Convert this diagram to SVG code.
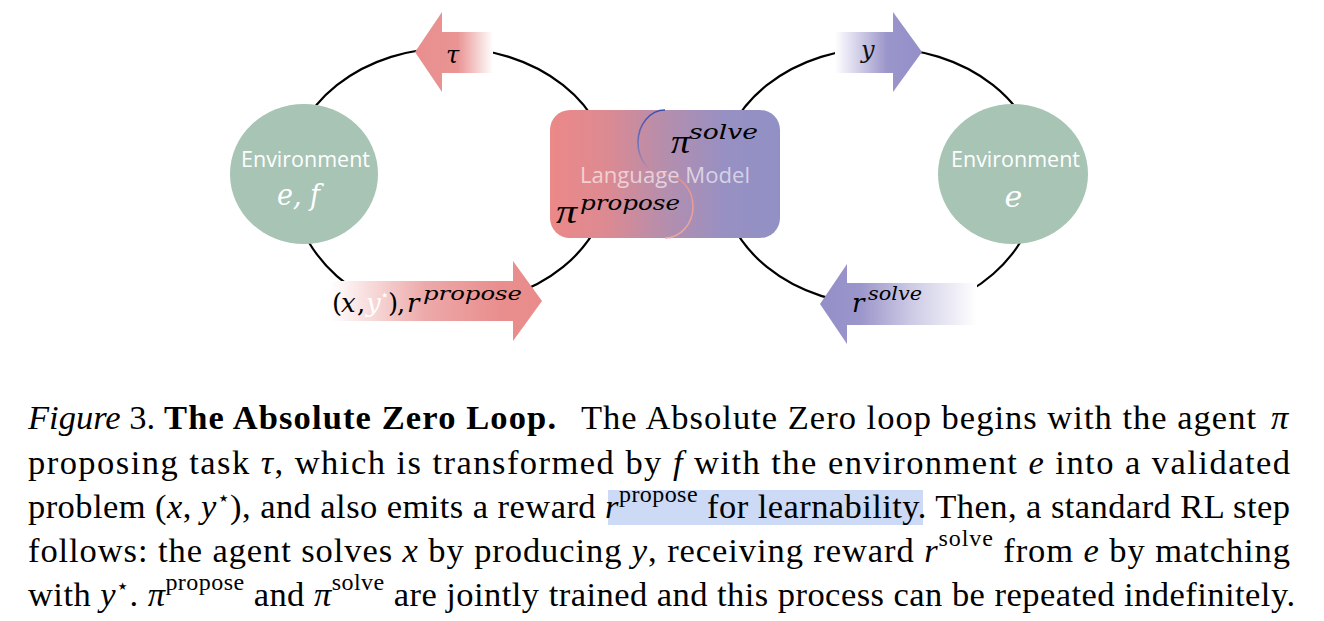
<svg xmlns="http://www.w3.org/2000/svg" width="1324" height="621" viewBox="0 0 1324 621">
<style>
.conn{fill:none;stroke:#000;stroke-width:2.2}
.env{fill:#a7c4b5}
.lbl{font-family:'Open Sans','Liberation Sans',sans-serif;font-size:21px;fill:#fff;text-anchor:middle}
.math{font-family:'DejaVu Serif','Liberation Serif',serif;font-style:italic}
.pi{font-family:'Liberation Serif','DejaVu Serif',serif;font-style:italic}
.cap{font-family:'Liberation Serif','DejaVu Serif',serif;font-size:34.5px;fill:#000}
.it{font-style:italic}
</style>
<defs>
<linearGradient id="lmGrad" x1="550" y1="0" x2="780" y2="0" gradientUnits="userSpaceOnUse">
<stop offset="0" stop-color="#ec8888"/>
<stop offset="0.25" stop-color="#dc8a92"/>
<stop offset="0.5" stop-color="#b58ead"/>
<stop offset="0.75" stop-color="#9890c2"/>
<stop offset="1" stop-color="#9190c6"/>
</linearGradient>
<linearGradient id="tauGrad" x1="415" y1="0" x2="493" y2="0" gradientUnits="userSpaceOnUse">
<stop offset="0" stop-color="#e98e8e"/>
<stop offset="0.55" stop-color="#ea9494"/>
<stop offset="1" stop-color="#ffffff"/>
</linearGradient>
<linearGradient id="yGrad" x1="835" y1="0" x2="922" y2="0" gradientUnits="userSpaceOnUse">
<stop offset="0" stop-color="#ffffff"/>
<stop offset="0.6" stop-color="#9a95ca"/>
<stop offset="1" stop-color="#948fc8"/>
</linearGradient>
<linearGradient id="propGrad" x1="330" y1="0" x2="542" y2="0" gradientUnits="userSpaceOnUse">
<stop offset="0" stop-color="#ffffff"/>
<stop offset="0.45" stop-color="#eda9a9"/>
<stop offset="0.8" stop-color="#e98e8e"/>
<stop offset="1" stop-color="#e98b8b"/>
</linearGradient>
<linearGradient id="solveGrad" x1="820" y1="0" x2="977" y2="0" gradientUnits="userSpaceOnUse">
<stop offset="0" stop-color="#948fc8"/>
<stop offset="0.25" stop-color="#9a95ca"/>
<stop offset="0.6" stop-color="#cfcde6"/>
<stop offset="1" stop-color="#ffffff"/>
</linearGradient>
<linearGradient id="sTop" x1="0" y1="110" x2="0" y2="175" gradientUnits="userSpaceOnUse">
<stop offset="0" stop-color="#3f4fb0"/>
<stop offset="0.6" stop-color="#7a78bb"/>
<stop offset="1" stop-color="#d78f9c"/>
</linearGradient>
<linearGradient id="sBot" x1="0" y1="175" x2="0" y2="238" gradientUnits="userSpaceOnUse">
<stop offset="0" stop-color="#e58f8c"/>
<stop offset="1" stop-color="#f0a8a0"/>
</linearGradient>
</defs>

<g id="connectors">
<path class="conn" d="M290,175 A160,127 0 0 1 610,175 A160,130 0 0 1 450,305 M450,318 A160,143 0 0 1 290,175"/>
<path class="conn" d="M720,175 A160,127 0 0 1 1040,175 A160,140 0 0 1 880,315 M880,305 A160,130 0 0 1 720,175"/>
</g>

<g id="env-left">
<ellipse class="env" cx="304" cy="174" rx="74" ry="70"/>
<text class="lbl" x="305.5" y="167" textLength="129" lengthAdjust="spacingAndGlyphs">Environment</text>
<text class="math" x="277" y="205" font-size="30" fill="#fff" textLength="43" lengthAdjust="spacingAndGlyphs">e, f</text>
</g>

<g id="env-right">
<ellipse class="env" cx="1013" cy="174" rx="75" ry="70"/>
<text class="lbl" x="1015.5" y="167" textLength="129" lengthAdjust="spacingAndGlyphs">Environment</text>
<text class="math" x="1013.5" y="207" font-size="30" fill="#fff" text-anchor="middle">e</text>
</g>

<g id="language-model">
<rect x="550" y="110" width="230" height="128" rx="20" ry="20" fill="url(#lmGrad)"/>
<path d="M665,110 A27,32.5 0 0 0 665,175" fill="none" stroke="url(#sTop)" stroke-width="1.6"/>
<path d="M665,175 A28,31.5 0 0 1 665,238" fill="none" stroke="url(#sBot)" stroke-width="1.6"/>
<text x="665" y="183" font-family="'Open Sans','Liberation Sans',sans-serif" font-size="21" fill="#ffffff" fill-opacity="0.62" text-anchor="middle" textLength="170" lengthAdjust="spacingAndGlyphs">Language Model</text>
<text class="pi" x="671" y="153" font-size="34" fill="#000" textLength="19" lengthAdjust="spacingAndGlyphs">π</text>
<text class="math" x="689" y="139" font-size="20" fill="#000" textLength="69" lengthAdjust="spacingAndGlyphs">solve</text>
<text class="pi" x="556" y="223" font-size="34" fill="#000" textLength="21" lengthAdjust="spacingAndGlyphs">π</text>
<text class="math" x="580" y="210" font-size="20" fill="#000" textLength="100" lengthAdjust="spacingAndGlyphs">propose</text>
</g>

<g id="arrow-tau">
<polygon points="415,52 442,12 442,32 493,32 493,73 442,73 442,92" fill="url(#tauGrad)"/>
<text class="math" x="446" y="63" font-size="24" fill="#000">τ</text>
</g>

<g id="arrow-y">
<polygon points="835,32 893,32 893,12 922,52 893,92 893,73 835,73" fill="url(#yGrad)"/>
<text class="math" x="861" y="58" font-size="24" fill="#111">y</text>
</g>

<g id="arrow-propose">
<polygon points="330,281 513,281 513,261 542,301 513,341 513,321 330,321" fill="url(#propGrad)"/>
<text y="312" font-family="'DejaVu Serif','Liberation Serif',serif" font-size="26" fill="#000"><tspan x="332">(</tspan><tspan x="341" font-style="italic">x</tspan><tspan x="357">,</tspan><tspan x="366" font-style="italic" fill="#fff">y</tspan><tspan x="380" y="300" fill="#fff" font-size="15">⋆</tspan><tspan x="388" y="312">)</tspan><tspan x="397">,</tspan><tspan x="407" font-style="italic">r</tspan></text>
<text class="math" x="423" y="300" font-size="19" fill="#000" textLength="99" lengthAdjust="spacingAndGlyphs">propose</text>
</g>

<g id="arrow-solve">
<polygon points="820,304 847,264 847,283 977,283 977,325 847,325 847,344" fill="url(#solveGrad)"/>
<text class="math" x="852" y="312" font-size="26" fill="#000">r</text>
<text class="math" x="868" y="300" font-size="19" fill="#000" textLength="54" lengthAdjust="spacingAndGlyphs">solve</text>
</g>

<g id="caption">
<rect x="608" y="490" width="315" height="35" fill="#cddaf6"/>
<text class="cap" x="28" y="429"><tspan class="it">Figure</tspan> 3.</text>
<text class="cap" x="164" y="429" font-weight="bold" textLength="392" lengthAdjust="spacing">The Absolute Zero Loop.</text>
<text class="cap" x="581" y="429" textLength="675" lengthAdjust="spacing">The Absolute Zero loop begins with the agent</text>
<text class="cap it" x="1271" y="429">π</text>
<text class="cap" x="28" y="473.5" textLength="1262" lengthAdjust="spacing">proposing task <tspan class="it">τ</tspan>, which is transformed by <tspan class="it">f</tspan> with the environment <tspan class="it">e</tspan> into a validated</text>
<text class="cap" x="28" y="518" textLength="1262" lengthAdjust="spacing">problem (<tspan class="it">x</tspan>, <tspan class="it">y</tspan><tspan font-size="21" dy="-13">⋆</tspan><tspan dy="13">), and also emits a reward </tspan><tspan class="it">r</tspan><tspan font-size="24" dy="-16">propose</tspan><tspan dy="16"> for learnability. Then, a standard RL step</tspan></text>
<text class="cap" x="28" y="562" textLength="1262" lengthAdjust="spacing">follows: the agent solves <tspan class="it">x</tspan> by producing <tspan class="it">y</tspan>, receiving reward <tspan class="it">r</tspan><tspan font-size="24" dy="-16">solve</tspan><tspan dy="16"> from </tspan><tspan class="it">e</tspan> by matching</text>
<text class="cap" x="28" y="606" textLength="1267" lengthAdjust="spacing">with <tspan class="it">y</tspan><tspan font-size="21" dy="-13">⋆</tspan><tspan dy="13">. </tspan><tspan class="it">π</tspan><tspan font-size="24" dy="-16">propose</tspan><tspan dy="16"> and </tspan><tspan class="it">π</tspan><tspan font-size="24" dy="-16">solve</tspan><tspan dy="16"> are jointly trained and this process can be repeated indefinitely.</tspan></text>
</g>
</svg>
